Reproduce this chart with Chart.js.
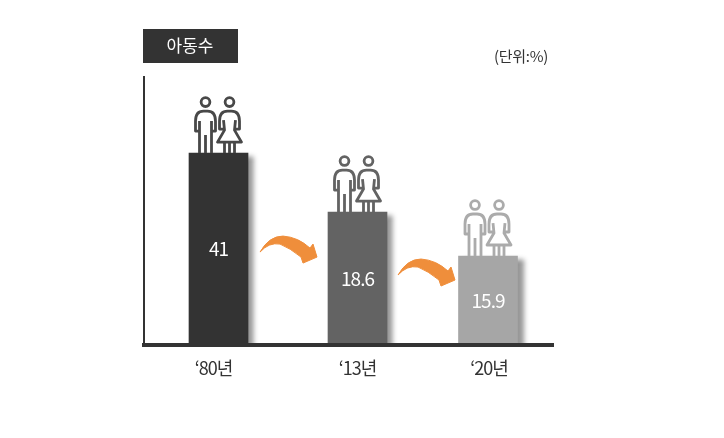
<!DOCTYPE html>
<html>
<head>
<meta charset="utf-8">
<style>
  html, body { margin: 0; padding: 0; background: #fff; }
  canvas { display: block; }
</style>
<script src="https://cdn.jsdelivr.net/npm/chart.js@4/dist/chart.umd.min.js"></script>
</head>
<body>
<canvas id="childChart" width="724" height="438"></canvas>
<script>
// Values
const yearLabels = ['‘80년', '‘13년', '‘20년'];
const printedValues = ['41', '18.6', '15.9'];
// The bars in the source are not drawn to the scale of the printed numbers,
// so these are the bar heights as seen, on a 0-100 axis
const barHeights = [71.6, 49.6, 33.2];
const barPositions = [74.5, 213.5, 344];
const tickPositions = [69.5, 213.5, 345];
const barColors = ['#333333', '#636363', '#a6a6a6'];
const iconColors = ['#484848', '#636363', '#ababab'];
const labelFont = '"Noto Sans CJK KR", "Noto Sans", sans-serif';

function drawPeople(ctx, cx, top, color) {
  const head = top - 51;
  ctx.save();
  ctx.strokeStyle = color;
  ctx.lineWidth = 2.8;
  ctx.lineJoin = 'round';

  // man
  ctx.save();
  ctx.translate(cx - 13, head);
  ctx.beginPath();
  ctx.arc(0, 0, 4.4, 0, Math.PI * 2);
  ctx.moveTo(-6, 29);
  ctx.lineTo(-10, 29);
  ctx.lineTo(-10, 19);
  ctx.quadraticCurveTo(-10, 9, -2, 9);
  ctx.lineTo(2, 9);
  ctx.quadraticCurveTo(10, 9, 10, 19);
  ctx.lineTo(10, 29);
  ctx.lineTo(6, 29);
  ctx.moveTo(-6, 19);
  ctx.lineTo(-6, 51);
  ctx.moveTo(6, 19);
  ctx.lineTo(6, 51);
  ctx.moveTo(0, 33);
  ctx.lineTo(0, 51);
  ctx.stroke();
  ctx.restore();

  // woman
  ctx.save();
  ctx.translate(cx + 11, head);
  ctx.beginPath();
  ctx.arc(0, 0, 4.4, 0, Math.PI * 2);
  ctx.moveTo(-6, 27);
  ctx.lineTo(-10, 27);
  ctx.lineTo(-10, 19);
  ctx.quadraticCurveTo(-10, 9, -2, 9);
  ctx.lineTo(2, 9);
  ctx.quadraticCurveTo(10, 9, 10, 19);
  ctx.lineTo(10, 27);
  ctx.lineTo(6, 27);
  ctx.moveTo(-6, 18);
  ctx.lineTo(-5, 28);
  ctx.lineTo(-12, 40);
  ctx.lineTo(12, 40);
  ctx.lineTo(5, 28);
  ctx.lineTo(6, 18);
  ctx.moveTo(-5, 40);
  ctx.lineTo(-5, 51);
  ctx.moveTo(0, 40);
  ctx.lineTo(0, 51);
  ctx.moveTo(5, 40);
  ctx.lineTo(5, 51);
  ctx.stroke();
  ctx.restore();
  ctx.restore();
}

function drawArrow(ctx, x, y) {
  ctx.save();
  ctx.translate(x, y);
  ctx.fillStyle = '#ef8e3b';
  ctx.strokeStyle = '#ef8e3b';
  ctx.lineWidth = 1;
  ctx.lineJoin = 'round';
  ctx.beginPath();
  ctx.moveTo(0, 16);
  ctx.quadraticCurveTo(9, 0, 23, 0);
  ctx.quadraticCurveTo(38, 1, 50, 12);
  ctx.lineTo(53, 8);
  ctx.lineTo(57, 21);
  ctx.lineTo(43, 27);
  ctx.lineTo(41, 21);
  ctx.quadraticCurveTo(30, 12, 20, 8);
  ctx.quadraticCurveTo(9, 6, 0, 16);
  ctx.fill();
  ctx.stroke();
  ctx.restore();
}

// soft shadow on the right side of the bars
const barShadow = {
  id: 'barShadow',
  beforeDatasetDraw(chart) {
    const ctx = chart.ctx;
    ctx.save();
    ctx.shadowColor = 'rgba(0,0,0,0.42)';
    ctx.shadowBlur = 5;
    ctx.shadowOffsetX = 6;
    ctx.shadowOffsetY = 3;
  },
  afterDatasetDraw(chart) {
    chart.ctx.restore();
  }
};

const extras = {
  id: 'extras',
  beforeDraw(chart) {
    // tick labels in the source are set tight
    chart.ctx.letterSpacing = '-1px';
  },
  afterDatasetsDraw(chart) {
    const ctx = chart.ctx;
    const bars = chart.getDatasetMeta(0).data;

    bars.forEach((bar, i) => {
      drawPeople(ctx, bar.x, bar.y, iconColors[i]);
      ctx.save();
      ctx.fillStyle = '#fff';
      ctx.font = '19px ' + labelFont;
      ctx.letterSpacing = '-1px';
      ctx.textAlign = 'center';
      ctx.textBaseline = 'middle';
      ctx.fillText(printedValues[i], bar.x, (bar.y + chart.chartArea.bottom) / 2);
      ctx.restore();
    });

    drawArrow(ctx, bars[0].x + 41.5, bars[1].y + 24);
    drawArrow(ctx, bars[1].x + 40.5, bars[2].y + 3);

    // title box and unit
    ctx.save();
    ctx.fillStyle = '#333';
    ctx.fillRect(143, 29, 95, 34);
    ctx.fillStyle = '#fff';
    ctx.font = '17px ' + labelFont;
    ctx.letterSpacing = '0px';
    ctx.textAlign = 'center';
    ctx.textBaseline = 'middle';
    ctx.fillText('아동수', 190, 46);
    ctx.fillStyle = '#333';
    ctx.font = '15px ' + labelFont;
    ctx.letterSpacing = '-0.3px';
    ctx.textAlign = 'right';
    ctx.fillText('(단위:%)', 548, 56);
    ctx.restore();
  }
};

const ctx = document.getElementById('childChart').getContext('2d');
const childChart = new Chart(ctx, {
  type: 'bar',
  data: {
    datasets: [{
      label: '아동수',
      data: barHeights.map((h, i) => ({ x: barPositions[i], y: h })),
      backgroundColor: barColors,
      borderWidth: 0,
      barThickness: 59
    }]
  },
  options: {
    responsive: false,
    animation: false,
    layout: { padding: { left: 144, right: 171, top: 77, bottom: 0 } },
    plugins: {
      legend: { display: false },
      tooltip: { enabled: false }
    },
    scales: {
      x: {
        type: 'linear',
        min: 0,
        max: 409,
        offset: false,
        afterBuildTicks(scale) {
          scale.ticks = tickPositions.map(v => ({ value: v }));
        },
        afterFit(scale) {
          scale.height = 93;
        },
        grid: { display: false, offset: false },
        border: { color: '#333', width: 4, z: 1 },
        ticks: {
          autoSkip: false,
          maxRotation: 0,
          padding: 4,
          color: '#333',
          font: { family: labelFont, size: 18 },
          callback: (v, i) => yearLabels[i]
        }
      },
      y: {
        min: 0,
        max: 100,
        afterFit(scale) {
          scale.width = 0;
        },
        grid: { display: false },
        border: { color: '#333', width: 2 },
        ticks: { display: false }
      }
    }
  },
  plugins: [barShadow, extras]
});
</script>
</body>
</html>
